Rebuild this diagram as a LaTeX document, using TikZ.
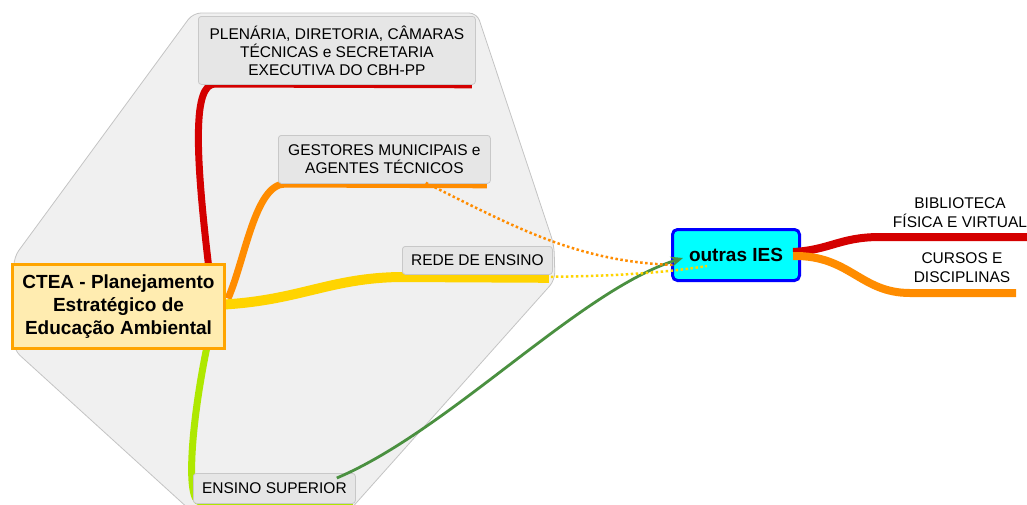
\documentclass[tikz,border=0pt]{standalone}
\usepackage{fontspec}
\setmainfont{Liberation Sans}
\usetikzlibrary{arrows.meta,calc}
\pgfdeclarelayer{bg}
\pgfdeclarelayer{lines}
\pgfsetlayers{bg,lines,main}
\definecolor{cred}{HTML}{D40000}
\definecolor{corange}{HTML}{FF8C00}
\definecolor{cyellow}{HTML}{FFD400}
\definecolor{clime}{HTML}{AEE800}
\definecolor{cgreen}{HTML}{4A9040}
\definecolor{polyfill}{HTML}{F0F0F0}
\definecolor{polyline}{HTML}{C4C4C4}
\definecolor{boxfill}{HTML}{E6E6E6}
\definecolor{boxline}{HTML}{C8C8C8}
\definecolor{cteafill}{HTML}{FFECB0}
\definecolor{ctealine}{HTML}{FFA500}
\definecolor{iesfill}{HTML}{00FFFF}
\definecolor{iesline}{HTML}{0000FF}
\begin{document}
\begin{tikzpicture}[x=1pt,y=-1pt,
  graybox/.style={draw=boxline, fill=boxfill, rounded corners=3pt, line width=0.8pt,
    inner sep=0pt, align=center, anchor=north west, font=\fontsize{15.5}{18}\selectfont},
  plainlabel/.style={inner sep=0pt, align=center, font=\fontsize{15.5}{19}\selectfont},
  mainbox/.style={draw=ctealine, fill=cteafill, line width=3pt, inner sep=0pt, align=center,
    anchor=north west, font=\bfseries\fontsize{19}{23}\selectfont},
  iesbox/.style={draw=iesline, fill=iesfill, line width=3pt, rounded corners=5pt, inner sep=0pt,
    align=center, anchor=north west, font=\bfseries\fontsize{19}{23}\selectfont},
  branch/.style={line width=#1, line cap=butt},
  dotline/.style={line width=2.5pt, dash pattern=on 2.5pt off 2.5pt, line cap=butt}
]
\useasboundingbox (0,0) rectangle (1027,504);
\clip (0,0) rectangle (1027,504);

\begin{pgfonlayer}{bg}
\filldraw[fill=polyfill, draw=polyline, line width=0.8pt, rounded corners=8pt]
  (193,13) -- (477,13) -- (554,245) -- (555,280) -- (341,520) -- (201,520)
  -- (14,350) -- (14,257) -- cycle;
\end{pgfonlayer}

\node[graybox, minimum width=277pt, minimum height=68pt] (plen) at (198,16)
  {PLENÁRIA, DIRETORIA, CÂMARAS\\TÉCNICAS e SECRETARIA\\EXECUTIVA DO CBH-PP};
\node[graybox, minimum width=212pt, minimum height=48pt] (gest) at (278,135)
  {GESTORES MUNICIPAIS e\\AGENTES TÉCNICOS};
\node[graybox, minimum width=150pt, minimum height=28pt] (rede) at (402,246)
  {REDE DE ENSINO};
\node[graybox, minimum width=162pt, minimum height=30pt] (ens) at (193,473)
  {ENSINO SUPERIOR};
\node[mainbox, minimum width=212pt, minimum height=84pt] (ctea) at (11,263)
  {CTEA - Planejamento\\Estratégico de\\Educação Ambiental};
\node[iesbox, minimum width=127pt, minimum height=51pt] (ies) at (671,228)
  {outras IES};
\node[plainlabel] (bib) at (960,213) {BIBLIOTECA\\FÍSICA E VIRTUAL};
\node[plainlabel] (cur) at (962,268) {CURSOS E\\DISCIPLINAS};
\coordinate (bibend) at (1030,237);
\coordinate (curend) at (1016,293);

\begin{pgfonlayer}{lines}
\draw[branch=7pt, cred] ([shift={(90,2)}]ctea.north)
  .. controls (195,150) and (193,84) .. (215,84) -- ([shift={(-4,0)}]plen.south east);
\draw[branch=7pt, corange] ([shift={(2,-8)}]ctea.east)
  .. controls (245,260) and (255,184) .. (285,184) -- ([shift={(-4,1)}]gest.south east);
\draw[branch=10pt, cyellow] ([shift={(-2,-2)}]ctea.east)
  .. controls (300,300) and (330,278) .. (400,277) -- ([shift={(-4,3)}]rede.south east);
\draw[branch=7pt, clime] ([shift={(88,-1)}]ctea.south)
  .. controls (192,420) and (185,500) .. (200,502) -- ([shift={(-3,-1)}]ens.south east);
\end{pgfonlayer}

\draw[line width=2.8pt, cgreen, -{Stealth[length=12pt,width=10pt]}]
  ([shift={(-19,5)}]ens.north east) .. controls (450,430) and (580,290) .. ([shift={(12,30)}]ies.north west);
\draw[dotline, corange] ([shift={(-65,-1)}]gest.south east)
  .. controls (520,230) and (580,262) .. ([shift={(4,37)}]ies.north west);
\draw[dotline, cyellow] ([shift={(-2,2)}]rede.south east)
  .. controls (620,276) and (670,272) .. ([shift={(36,38)}]ies.north west);
\draw[branch=8pt, cred] ([shift={(-8,-3)}]ies.east)
  .. controls (830,250) and (840,237) .. (880,237) -- (bibend);
\draw[branch=8pt, corange] ([shift={(-8,1)}]ies.east)
  .. controls (850,255) and (860,293) .. (910,293) -- (curend);
\end{tikzpicture}
\end{document}
